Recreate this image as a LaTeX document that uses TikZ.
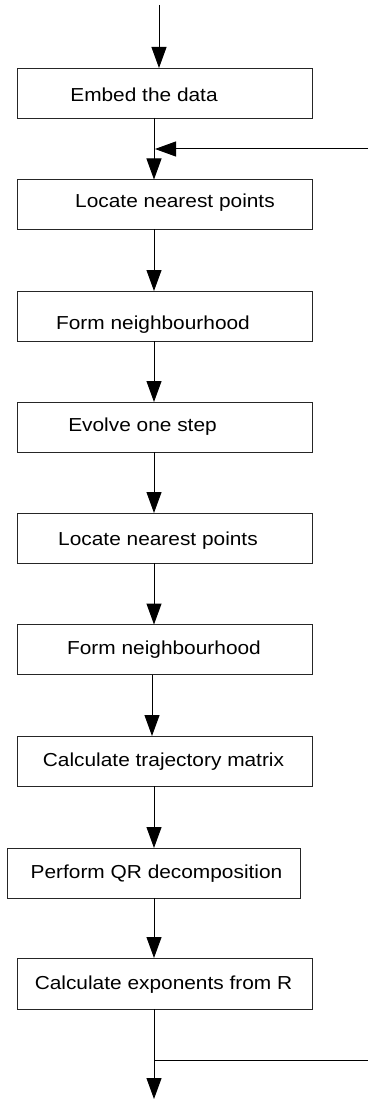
\documentclass[tikz,border=0pt]{standalone}
\usepackage{fontspec}
\setmainfont[FakeStretch=1.11]{Liberation Sans}
\usetikzlibrary{arrows.meta}
\begin{document}
\begin{tikzpicture}[x=1pt,y=-1pt,
  stepbox/.style={draw=black!85,line width=0.8pt,inner sep=0pt,outer sep=0pt,
    minimum width=295pt,minimum height=50pt},
  lbl/.style={anchor=base,inner sep=0pt,font=\fontsize{18.8}{22}\selectfont},
  flow/.style={line width=1pt,-{Triangle[length=21pt,width=15pt]}},
  plain/.style={line width=1pt}]
\useasboundingbox[fill=white] (0,0) rectangle (368,1099);

% process boxes
\node[stepbox] (b1) at (164.5,93)   {};
\node[stepbox] (b2) at (164.5,204.5) {};
\node[stepbox] (b3) at (164.5,316)  {};
\node[stepbox] (b4) at (164.5,427)  {};
\node[stepbox] (b5) at (164.5,538)  {};
\node[stepbox] (b6) at (164.5,649.5) {};
\node[stepbox] (b7) at (164.5,761)  {};
\node[stepbox,minimum width=293pt] (b8) at (153.5,873) {};
\node[stepbox,minimum height=51pt] (b9) at (164.5,983.5) {};

% box captions
\node[lbl] (t1) at (144,102)   {Embed the data};
\node[lbl] (t2) at (175,208)   {Locate nearest points};
\node[lbl] (t3) at (153,329)   {Form neighbourhood};
\node[lbl] (t4) at (142.5,431) {Evolve one step};
\node[lbl] (t5) at (158,545)   {Locate nearest points};
\node[lbl] (t6) at (164,654)   {Form neighbourhood};
\node[lbl] (t7) at (163.5,766) {Calculate trajectory matrix};
\node[lbl] (t8) at (156.5,878) {Perform QR decomposition};
\node[lbl] (t9) at (163.5,989) {Calculate exponents from R};

% free ends of the flow
\coordinate (entry)   at (159,5);
\coordinate (spine)   at (154,0);
\coordinate (spineb)  at (152,0);
\coordinate (loopin)  at (368,149);
\coordinate (loopout) at (368,1060);
\coordinate (exit)    at (154,1099);

% main flow
\draw[flow] (entry) -- (b1.north -| entry);
\draw[flow] (b1.south -| spine) -- (b2.north -| spine);
\draw[flow] (b2.south -| spine) -- (b3.north -| spine);
\draw[flow] (b3.south -| spine) -- (b4.north -| spine);
\draw[flow] (b4.south -| spine) -- (b5.north -| spine);
\draw[flow] (b5.south -| spine) -- (b6.north -| spine);
\draw[flow] (b6.south -| spineb) -- (b7.north -| spineb);
\draw[flow] (b7.south -| spine) -- (b8.north -| spine);
\draw[flow] (b8.south -| spine) -- (b9.north -| spine);
\draw[flow] (b9.south -| exit) -- (exit);

% loop back
\draw[plain] (loopout -| exit) -- (loopout);
\draw[flow] (loopin) -- ([xshift=1pt]loopin -| spine);
\end{tikzpicture}
\end{document}
